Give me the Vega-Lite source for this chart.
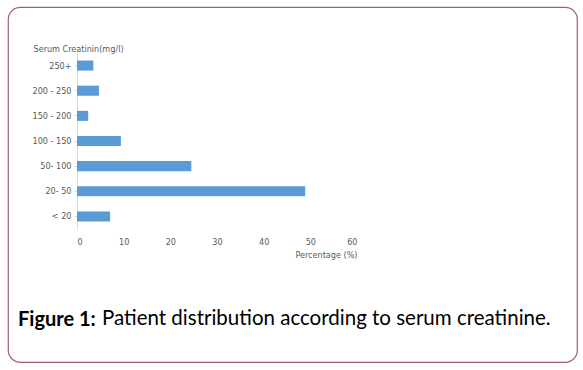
{
  "$schema": "https://vega.github.io/schema/vega-lite/v6.json",
  "autosize": {"type": "none"},
  "width": 569,
  "height": 355,
  "padding": {"left": 8, "top": 7, "right": 6, "bottom": 8},
  "background": "#ffffff",
  "config": {
    "view": {"stroke": "#a35a85", "strokeWidth": 1.2, "cornerRadius": 12},
    "font": "DejaVu Sans Condensed"
  },
  "title": {
    "text": "Figure 1:",
    "subtitle": "\u200b\u00a0\u00a0\u00a0\u00a0\u00a0\u00a0\u00a0\u00a0\u00a0\u00a0\u00a0\u00a0\u00a0\u00a0\u00a0\u00a0Patient distribution according to serum creatinine.",
    "orient": "top",
    "anchor": "start",
    "frame": "group",
    "offset": 0,
    "dx": 10,
    "dy": 339,
    "baseline": "alphabetic",
    "font": "Lato",
    "fontSize": 20,
    "fontWeight": "bold",
    "color": "#000000",
    "subtitleFont": "Lato",
    "subtitleFontSize": 20.5,
    "subtitleFontWeight": "normal",
    "subtitleColor": "#000000",
    "subtitlePadding": -20.5
  },
  "data": {
    "values": [
      {"category": "250+", "percentage": 3.5},
      {"category": "200 - 250", "percentage": 4.7},
      {"category": "150 - 200", "percentage": 2.4},
      {"category": "100 - 150", "percentage": 9.4},
      {"category": "50- 100", "percentage": 24.5},
      {"category": "20- 50", "percentage": 48.9},
      {"category": "< 20", "percentage": 7.1}
    ]
  },
  "mark": {"type": "bar", "color": "#5b9bd5"},
  "encoding": {
    "y": {
      "field": "category",
      "type": "nominal",
      "sort": null,
      "scale": {"range": [46, 222], "paddingInner": 0.6, "paddingOuter": 0.3},
      "axis": {
        "title": "Serum Creatinin(mg/l)",
        "titleAngle": 0,
        "titleAlign": "left",
        "titleBaseline": "middle",
        "titleX": -44,
        "titleY": 41,
        "titleFontSize": 9,
        "titleFontWeight": "normal",
        "titleColor": "#595959",
        "offset": -69,
        "domainColor": "#d9d9d9",
        "tickColor": "#d9d9d9",
        "tickSize": 3,
        "labelPadding": 3,
        "labelFontSize": 9,
        "labelColor": "#595959"
      }
    },
    "x": {
      "field": "percentage",
      "type": "quantitative",
      "scale": {"domain": [0, 60], "range": [69, 349], "nice": false},
      "axis": {
        "title": "Percentage (%)",
        "values": [0, 10, 20, 30, 40, 50, 60],
        "grid": false,
        "domain": false,
        "ticks": false,
        "offset": -133,
        "labelPadding": 8,
        "labelFontSize": 9,
        "labelColor": "#595959",
        "titleFontSize": 9,
        "titleFontWeight": "normal",
        "titleColor": "#595959",
        "titleAlign": "right",
        "titleBaseline": "middle",
        "titleX": 349,
        "titleY": 25
      }
    }
  }
}
